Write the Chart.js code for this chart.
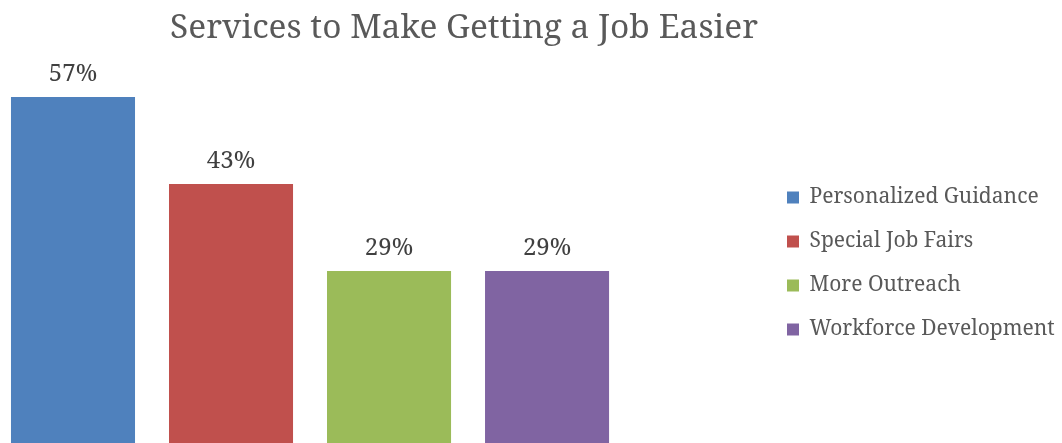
<!DOCTYPE html>
<html>
<head>
<meta charset="utf-8">
<title>Services to Make Getting a Job Easier</title>
<script src="https://cdn.jsdelivr.net/npm/chart.js@4.4.1/dist/chart.umd.min.js"></script>
<style>
    html, body { margin: 0; padding: 0; background: #ffffff; }
    .grafico { position: relative; width: 1062px; height: 443px; }
</style>
</head>
<body>
<div class="grafico">
    <canvas id="servicios"></canvas>
</div>
<script>
const titulo = "Services to Make Getting a Job Easier";
const servicios = ["Personalized Guidance", "Special Job Fairs", "More Outreach", "Workforce Development"];
const porcentajes = [57, 43, 29, 29];
const colores = ["#4F81BD", "#C0504D", "#9BBB59", "#8064A2"];

const fuente = "'Noto Serif', 'DejaVu Serif Condensed', serif";

// titulo centrado sobre las barras
const pluginTitulo = {
    id: "tituloServicios",
    afterDraw(chart) {
        const ctx = chart.ctx;
        ctx.save();
        ctx.font = "33.5px " + fuente;
        ctx.fillStyle = "#595959";
        ctx.textAlign = "center";
        ctx.textBaseline = "alphabetic";
        ctx.fillText(titulo, 464, 38);
        ctx.restore();
    }
};

// porcentaje encima de cada barra
const pluginEtiquetas = {
    id: "etiquetasPorcentaje",
    afterDatasetsDraw(chart) {
        const ctx = chart.ctx;
        ctx.save();
        ctx.font = "24px " + fuente;
        ctx.fillStyle = "#404040";
        ctx.textAlign = "center";
        ctx.textBaseline = "alphabetic";
        chart.data.datasets.forEach((ds, i) => {
            const barra = chart.getDatasetMeta(i).data[0];
            ctx.fillText(ds.data[0].y + "%", barra.x, barra.y - 16);
        });
        ctx.restore();
    }
};

const ctxServicios = document.getElementById("servicios").getContext("2d");
const graficoServicios = new Chart(ctxServicios, {
    type: "bar",
    data: {
        datasets: servicios.map((nombre, i) => ({
            label: nombre,
            data: [{ x: i + 1, y: porcentajes[i] }],
            backgroundColor: colores[i],
            borderWidth: 0,
            grouped: false,
            barPercentage: 0.785,
            categoryPercentage: 1
        }))
    },
    options: {
        responsive: true,
        maintainAspectRatio: false,
        animation: false,
        layout: {
            padding: { top: 84, right: 0, bottom: 0, left: 0 }
        },
        scales: {
            x: {
                type: "linear",
                display: false,
                offset: false,
                min: 0.538,
                max: 5.373,
                // un tick por servicio para que el ancho de barra salga del paso entre ellos
                afterBuildTicks: (scale) => {
                    scale.ticks = servicios.map((_, i) => ({ value: i + 1 }));
                }
            },
            y: {
                display: false,
                min: 1.3,
                max: 59.1
            }
        },
        plugins: {
            legend: {
                position: "right",
                maxWidth: 298,
                labels: {
                    color: "#595959",
                    font: { family: fuente, size: 21 },
                    boxWidth: 12,
                    boxHeight: 12,
                    padding: 23
                }
            },
            tooltip: { enabled: false }
        }
    },
    plugins: [pluginTitulo, pluginEtiquetas]
});
</script>
</body>
</html>
